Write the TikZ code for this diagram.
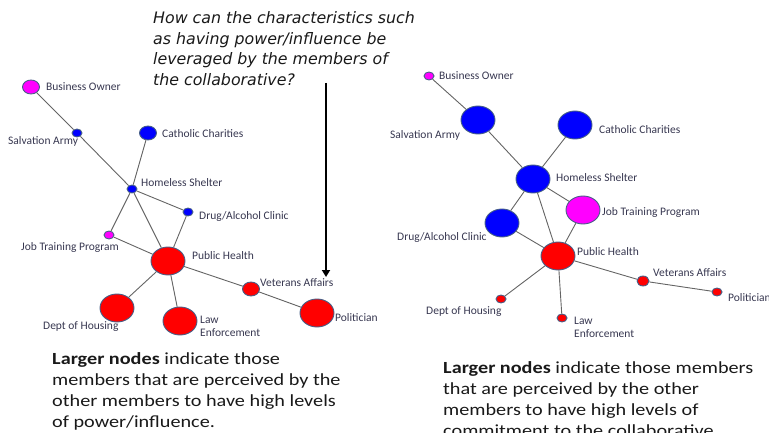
\documentclass[tikz,border=0pt]{standalone}
\usepackage{fontspec}
\setmainfont{Carlito}
\newfontfamily\qfont{DejaVu Sans}
\newfontfamily\notefont[FakeStretch=1.19]{Carlito}
\usetikzlibrary{shapes.geometric,arrows.meta}
\definecolor{nodeblue}{RGB}{0,0,255}
\definecolor{nodered}{RGB}{255,0,0}
\definecolor{nodepink}{RGB}{255,0,255}
\definecolor{rimcol}{RGB}{70,95,135}
\definecolor{edgecol}{RGB}{100,100,100}
\definecolor{labcol}{RGB}{55,55,80}
\tikzset{
  member/.style={ellipse, draw=rimcol, line width=0.9pt, inner sep=0pt},
  big/.style={member, minimum width=34pt, minimum height=28pt},
  mid/.style={member, minimum width=17pt, minimum height=14pt},
  sml/.style={member, minimum width=10pt, minimum height=8pt},
  tie/.style={draw=edgecol, line width=0.9pt},
  lab/.style={anchor=west, inner sep=0pt, text=labcol, font=\fontsize{11.5}{11.5}\selectfont},
  lab2/.style={anchor=north west, inner sep=0pt, text=labcol, align=left, font=\fontsize{11.5}{12.5}\selectfont},
  note/.style={anchor=north west, inner sep=0pt, align=left, text=black!90, font=\notefont\fontsize{17}{21.2}\selectfont},
}
\begin{document}
\begin{tikzpicture}[x=1pt,y=-1pt]
\useasboundingbox (0,0) rectangle (769,433);
% ---------- left graph ----------
\node[mid, fill=nodepink] (lbo) at (31,87) {};
\node[sml, fill=nodeblue] (lsa) at (77,133) {};
\node[mid, fill=nodeblue] (lcc) at (148,133) {};
\node[sml, fill=nodeblue] (lhs) at (132,189) {};
\node[sml, fill=nodeblue] (ldr) at (188,212) {};
\node[sml, fill=nodepink] (ljt) at (109,235) {};
\node[big, fill=nodered] (lph) at (168,261) {};
\node[mid, fill=nodered] (lva) at (251,289) {};
\node[big, fill=nodered] (lpo) at (317,313) {};
\node[big, fill=nodered] (ldh) at (117,308) {};
\node[big, fill=nodered] (lle) at (180,321) {};
\draw[tie] (lbo) -- (lsa);
\draw[tie] (lsa) -- (lhs);
\draw[tie] (lcc) -- (lhs);
\draw[tie] (lhs) -- (ldr);
\draw[tie] (lhs) -- (ljt);
\draw[tie] (lhs) -- (lph);
\draw[tie] (ldr) -- (lph);
\draw[tie] (ljt) -- (lph);
\draw[tie] (lph) -- (ldh);
\draw[tie] (lph) -- (lle);
\draw[tie] (lph) -- (lva);
\draw[tie] (lva) -- (lpo);
\node[lab] (tlbo) at (46,87) {Business Owner};
\node[lab] (tlsa) at (8,141) {Salvation Army};
\node[lab] (tlcc) at (162,134) {Catholic Charities};
\node[lab] (tlhs) at (141,183) {Homeless Shelter};
\node[lab] (tldr) at (199,216) {Drug/Alcohol Clinic};
\node[lab] (tljt) at (21,247) {Job Training Program};
\node[lab] (tlph) at (192,256) {Public Health};
\node[lab] (tlva) at (260,283) {Veterans Affairs};
\node[lab] (tlpo) at (335,318) {Politician};
\node[lab] (tldh) at (43,327) {Dept of Housing};
\node[lab2] (tlle) at (200,316) {Law\\Enforcement};
% question and arrow
\node[anchor=north west, inner sep=0pt, align=left, text=black!90,
      font=\qfont\itshape\fontsize{15.8}{20.8}\selectfont] (quest) at (153,11)
  {How can the characteristics such\\as having power/influence be\\leveraged by the members of\\the collaborative?};
\coordinate (arS) at (326,83);
\coordinate (arE) at (326,277);
\draw[line width=2.4pt, -{Triangle[width=8pt,length=7pt]}] (arS) -- (arE);
% ---------- right graph ----------
\node[sml, fill=nodepink] (rbo) at (429,76) {};
\node[big, fill=nodeblue] (rsa) at (478,120) {};
\node[big, fill=nodeblue] (rcc) at (575,125) {};
\node[big, fill=nodeblue] (rhs) at (533,179) {};
\node[big, fill=nodepink] (rjt) at (583,210) {};
\node[big, fill=nodeblue] (rdr) at (502,223) {};
\node[big, fill=nodered] (rph) at (558,256) {};
\node[member, fill=nodered, minimum width=12pt, minimum height=10pt] (rva) at (643,281) {};
\node[sml, fill=nodered] (rpo) at (717,292) {};
\node[sml, fill=nodered] (rdh) at (501,299) {};
\node[sml, fill=nodered] (rle) at (562,318) {};
\draw[tie] (rbo) -- (rsa);
\draw[tie] (rsa) -- (rhs);
\draw[tie] (rcc) -- (rhs);
\draw[tie] (rhs) -- (rdr);
\draw[tie] (rhs) -- (rph);
\draw[tie] (rhs) -- (rjt);
\draw[tie] (rjt) -- (rph);
\draw[tie] (rdr) -- (rph);
\draw[tie] (rph) -- (rdh);
\draw[tie] (rph) -- (rle);
\draw[tie] (rph) -- (rva);
\draw[tie] (rva) -- (rpo);
\node[lab] (trbo) at (439,76) {Business Owner};
\node[lab] (trsa) at (390,135) {Salvation Army};
\node[lab] (trcc) at (599,130) {Catholic Charities};
\node[lab] (trhs) at (556,178) {Homeless Shelter};
\node[lab] (trjt) at (602,212) {Job Training Program};
\node[lab] (trdr) at (397,237) {Drug/Alcohol Clinic};
\node[lab] (trph) at (577,252) {Public Health};
\node[lab] (trva) at (653,273) {Veterans Affairs};
\node[lab] (trpo) at (728,298) {Politician};
\node[lab] (trdh) at (426,312) {Dept of Housing};
\node[lab2] (trle) at (574,317) {Law\\Enforcement};
% ---------- notes ----------
\node[note] (nleft) at (52,352)
  {\textbf{Larger nodes} indicate those\\members that are perceived by the\\other members to have high levels\\of power/influence.};
\node[note] (nright) at (443,361)
  {\textbf{Larger nodes} indicate those members\\that are perceived by the other\\members to have high levels of\\commitment to the collaborative.};
\end{tikzpicture}
\end{document}
